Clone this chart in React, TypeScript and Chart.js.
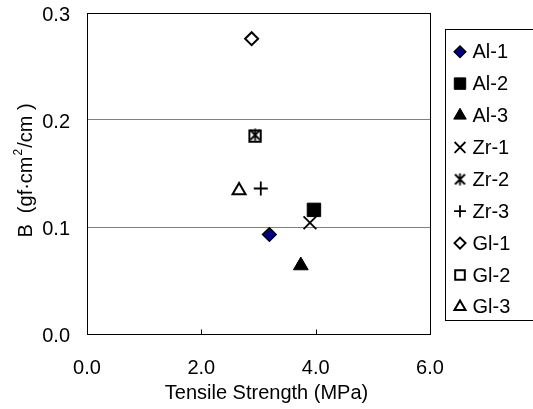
import React, { useEffect, useRef } from 'react';
import { Chart, registerables } from 'chart.js';
import { drawPoint } from 'chart.js/helpers';

Chart.register(...registerables);

// ---- data ----
const seriesNames = ['Al-1', 'Al-2', 'Al-3', 'Zr-1', 'Zr-2', 'Zr-3', 'Gl-1', 'Gl-2', 'Gl-3'];
const tensileStrength = [3.19, 3.97, 3.74, 3.9, 2.94, 3.04, 2.88, 2.94, 2.66];
const bValues = [0.093, 0.116, 0.064, 0.104, 0.186, 0.136, 0.276, 0.185, 0.134];
const xTickValues = [0, 2, 4, 6];
const yTickValues = [0, 0.1, 0.2, 0.3];
const xTitle = 'Tensile Strength (MPa)';
const yTitleParts = ['B  (gf\u00b7cm', '2', '/cm )'];

const FONT = '"Liberation Sans", Arial, sans-serif';
const FS = 20;

function makeStar(size: number): HTMLCanvasElement {
  const c = document.createElement('canvas');
  c.width = size;
  c.height = size;
  const g = c.getContext('2d')!;
  g.strokeStyle = '#000';
  g.lineWidth = 1.8;
  const m = 1.5;
  g.beginPath();
  g.moveTo(m, m);
  g.lineTo(size - m, size - m);
  g.moveTo(size - m, m);
  g.lineTo(m, size - m);
  g.moveTo(size / 2, 0.5);
  g.lineTo(size / 2, size - 0.5);
  g.stroke();
  return c;
}

type Style = { pointStyle: any; radius: number; bg: string; border: string; bw: number };

function getStyles(): Style[] {
  const star = makeStar(13);
  return [
    { pointStyle: 'rectRot', radius: 7, bg: '#000080', border: '#000', bw: 1.2 },
    { pointStyle: 'rect', radius: 9.5, bg: '#000', border: '#000', bw: 1 },
    { pointStyle: 'triangle', radius: 8.5, bg: '#000', border: '#000', bw: 1 },
    { pointStyle: 'crossRot', radius: 9, bg: 'transparent', border: '#000', bw: 1.8 },
    { pointStyle: star, radius: 6.5, bg: 'transparent', border: '#000', bw: 1.8 },
    { pointStyle: 'cross', radius: 7, bg: 'transparent', border: '#000', bw: 1.8 },
    { pointStyle: 'rectRot', radius: 6.5, bg: '#fff', border: '#000', bw: 2 },
    { pointStyle: 'rect', radius: 8, bg: 'transparent', border: '#000', bw: 2 },
    { pointStyle: 'triangle', radius: 7.5, bg: '#fff', border: '#000', bw: 2 },
  ];
}

export default function App() {
  const ref = useRef<HTMLCanvasElement | null>(null);

  useEffect(() => {
    document.body.style.margin = '0';
    const canvas = ref.current;
    if (!canvas) return;
    const styles = getStyles();

    const datasets = seriesNames.map((name, i) => ({
      label: name,
      data: [{ x: tensileStrength[i], y: bValues[i] }],
      pointStyle: styles[i].pointStyle,
      pointRadius: styles[i].radius,
      pointBackgroundColor: styles[i].bg,
      pointBorderColor: styles[i].border,
      pointBorderWidth: styles[i].bw,
      showLine: false,
    }));

    const custom = {
      id: 'custom',
      beforeDatasetsDraw(chart: any) {
        const { ctx, chartArea: a } = chart;
        ctx.save();
        ctx.strokeStyle = '#000';
        ctx.lineWidth = 1;
        const l = Math.round(a.left) + 0.5;
        const t = Math.round(a.top) + 0.5;
        const r = Math.round(a.right) + 0.5;
        const b = Math.round(a.bottom) + 0.5;
        ctx.strokeRect(l, t, r - l, b - t);
        const xs = chart.scales.x;
        ctx.beginPath();
        for (const v of xTickValues.slice(1, -1)) {
          const px = Math.round(xs.getPixelForValue(v)) + 0.5;
          ctx.moveTo(px, b);
          ctx.lineTo(px, b - 5);
        }
        ctx.stroke();
        ctx.restore();
      },
      afterDraw(chart: any) {
        const { ctx, chartArea: a } = chart;
        const big = `${FS}px ${FONT}`;
        const small = `12px ${FONT}`;

        // x title
        ctx.save();
        ctx.fillStyle = '#000';
        ctx.font = big;
        ctx.textAlign = 'center';
        ctx.textBaseline = 'middle';
        ctx.fillText(xTitle, (a.left + a.right) / 2 + 8, a.bottom + 59);
        ctx.restore();

        // y title
        ctx.save();
        ctx.fillStyle = '#000';
        ctx.textBaseline = 'middle';
        ctx.textAlign = 'left';
        ctx.font = big;
        const w0 = ctx.measureText(yTitleParts[0]).width;
        const w2 = ctx.measureText(yTitleParts[2]).width;
        ctx.font = small;
        const w1 = ctx.measureText(yTitleParts[1]).width + 2;
        const total = w0 + w1 + w2;
        ctx.translate(26, (a.top + a.bottom) / 2 - 3);
        ctx.rotate(-Math.PI / 2);
        let x = -total / 2;
        ctx.font = big;
        ctx.fillText(yTitleParts[0], x, 0);
        x += w0;
        ctx.font = small;
        ctx.fillText(yTitleParts[1], x + 1, -7);
        x += w1;
        ctx.font = big;
        ctx.fillText(yTitleParts[2], x, 0);
        ctx.restore();

        // legend
        ctx.save();
        ctx.strokeStyle = '#000';
        ctx.lineWidth = 1;
        ctx.strokeRect(445.5, 29.5, 100, 291);
        ctx.font = big;
        ctx.fillStyle = '#000';
        ctx.textBaseline = 'middle';
        ctx.textAlign = 'left';
        chart.data.datasets.forEach((ds: any, i: number) => {
          const y = 51.7 + i * 31.9;
          ctx.save();
          ctx.fillStyle = ds.pointBackgroundColor;
          ctx.strokeStyle = ds.pointBorderColor;
          ctx.lineWidth = ds.pointBorderWidth;
          drawPoint(
            ctx,
            { pointStyle: ds.pointStyle, rotation: 0, borderWidth: ds.pointBorderWidth, radius: ds.pointRadius * 0.85 },
            460,
            y
          );
          ctx.restore();
          ctx.fillText(ds.label, 472.5, y + 1);
        });
        ctx.restore();
      },
    };

    const chart = new Chart(canvas, {
      type: 'scatter',
      data: { datasets },
      plugins: [custom],
      options: {
        animation: false,
        responsive: false,
        events: [],
        layout: { padding: { top: 13, right: 103, left: 0, bottom: 0 } },
        plugins: { legend: { display: false }, tooltip: { enabled: false } },
        scales: {
          x: {
            type: 'linear',
            min: 0,
            max: 6,
            afterFit: (s: any) => { s.height = 75; s.paddingLeft = 0; s.paddingRight = 0; },
            afterBuildTicks: (s: any) => { s.ticks = xTickValues.map((v) => ({ value: v })); },
            grid: { display: false, drawTicks: false },
            border: { display: false },
            ticks: {
              padding: 22,
              color: '#000',
              font: { family: FONT, size: FS },
              callback: (v: any) => Number(v).toFixed(1),
              maxRotation: 0,
            },
            title: { display: false },
          },
          y: {
            type: 'linear',
            min: 0,
            max: 0.3,
            afterFit: (s: any) => { s.width = 87; s.paddingTop = 0; s.paddingBottom = 0; },
            afterBuildTicks: (s: any) => { s.ticks = yTickValues.map((v) => ({ value: v })); },
            grid: { color: '#808080', lineWidth: 1, drawTicks: false },
            border: { display: false },
            ticks: {
              padding: 17,
              labelOffset: 2,
              color: '#000',
              font: { family: FONT, size: FS },
              callback: (v: any) => Number(v).toFixed(1),
            },
          },
        },
      },
    });
    return () => chart.destroy();
  }, []);

  return (
    <div style={{ width: 533, height: 409 }}>
      <canvas ref={ref} width={533} height={409} style={{ display: 'block' }} />
    </div>
  );
}
